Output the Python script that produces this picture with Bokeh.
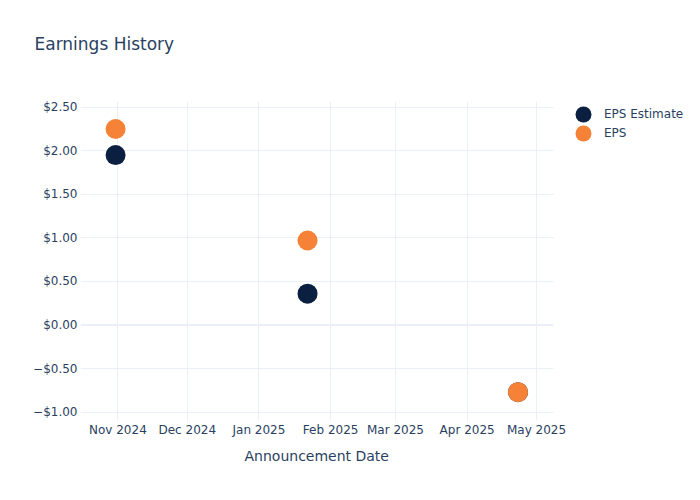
import pandas as pd
from bokeh.plotting import figure
from bokeh.models import (Range1d, FixedTicker, MonthsTicker, DatetimeTickFormatter,
                          Legend, LegendItem, Span, BoxAnnotation, Title)
from bokeh.embed import file_html
from bokeh.resources import INLINE

# ---- data ----
dates = ["2024-10-31", "2025-01-22", "2025-04-23"]
eps_estimate = [1.95, 0.36, -0.77]
eps_actual = [2.25, 0.97, -0.77]
y_ticks = [-1.0, -0.5, 0.0, 0.5, 1.0, 1.5, 2.0, 2.5]
y_tick_labels = ["\u2212$1.00", "\u2212$0.50", "$0.00", "$0.50", "$1.00", "$1.50", "$2.00", "$2.50"]

x = pd.to_datetime(dates)

# visible axis span, and the frame extension that holds the legend
x_start = pd.Timestamp("2024-10-15 20:00")
x_end = pd.Timestamp("2025-05-08 09:00")
frame_end = pd.Timestamp("2025-07-06 14:00")


def ms(t):
    return t.timestamp() * 1000.0


TEXT = "#2a3f5f"
GRID = "#ebf0f8"
FONT = "DejaVu Sans"
NAVY = "#0b1f41"
ORANGE = "#f68237"

p = figure(width=700, height=500, x_axis_type="datetime",
           output_backend="svg", toolbar_location=None,
           x_range=Range1d(ms(x_start), ms(frame_end)),
           y_range=Range1d(-1.095, 2.565),
           min_border_left=80, min_border_right=10, min_border_top=100, min_border_bottom=80)
p.outline_line_color = None
p.background_fill_color = "white"
p.border_fill_color = "white"

p.title.text = "Earnings History"
p.title.text_font = FONT
p.title.text_font_size = "17px"
p.title.text_font_style = "normal"
p.title.text_color = TEXT
p.title.align = "left"
p.title.offset = -46
p.title.standoff = 62
# thin spacer between the title and the plot frame
p.add_layout(Title(text=" ", text_font_size="1px", standoff=14), "above")

# grids
p.xgrid.ticker = MonthsTicker(months=list(range(12)))
p.xgrid.grid_line_color = GRID
p.xgrid.bounds = (ms(x_start), ms(x_end))
p.ygrid.grid_line_color = GRID
p.ygrid.ticker = FixedTicker(ticks=y_ticks)
p.add_layout(Span(location=0, dimension="width", line_color=GRID, line_width=2, level="underlay"))
# blank the frame area beyond the axis span (legend area)
p.add_layout(BoxAnnotation(left=ms(x_end), fill_color="white", fill_alpha=1.0,
                           line_color=None, level="glyph"))

# axes
xa = p.xaxis[0]
xa.ticker = MonthsTicker(months=list(range(12)))
xa.formatter = DatetimeTickFormatter(months="%b %Y", days="%b %Y", years="%b %Y")
xa.bounds = (ms(x_start), ms(x_end))
ya = p.yaxis[0]
ya.ticker = FixedTicker(ticks=y_ticks)
ya.major_label_overrides = {t: l for t, l in zip(y_ticks, y_tick_labels)}
for ax in (xa, ya):
    ax.axis_line_color = None
    ax.major_tick_line_color = None
    ax.minor_tick_line_color = None
    ax.major_tick_out = 0
    ax.major_tick_in = 0
    ax.minor_tick_out = 0
    ax.minor_tick_in = 0
    ax.major_label_text_font = FONT
    ax.major_label_text_font_size = "12px"
    ax.major_label_text_color = TEXT
xa.major_label_standoff = 2
ya.major_label_standoff = 3

# x axis title, centred under the axis span
p.add_layout(Title(text="Announcement Date", text_font=FONT, text_font_size="14px",
                   text_font_style="normal", text_color=TEXT, align="left",
                   offset=164, standoff=12), "below")

r1 = p.scatter(x, eps_estimate, size=20, color=NAVY, line_color=None)
r2 = p.scatter(x, eps_actual, size=20, color=ORANGE, line_color=None)

common = dict(margin=0, padding=0, glyph_width=40, glyph_height=40, label_standoff=1,
              border_line_color=None, background_fill_alpha=0,
              label_text_font=FONT, label_text_font_size="12px", label_text_color=TEXT)
leg1 = Legend(items=[LegendItem(label="EPS Estimate", renderers=[r1])], location=(483, 286), **common)
leg2 = Legend(items=[LegendItem(label="EPS", renderers=[r2])], location=(483, 267), **common)
p.add_layout(leg1)
p.add_layout(leg2)

open("out.html", "w").write(file_html(p, INLINE))
